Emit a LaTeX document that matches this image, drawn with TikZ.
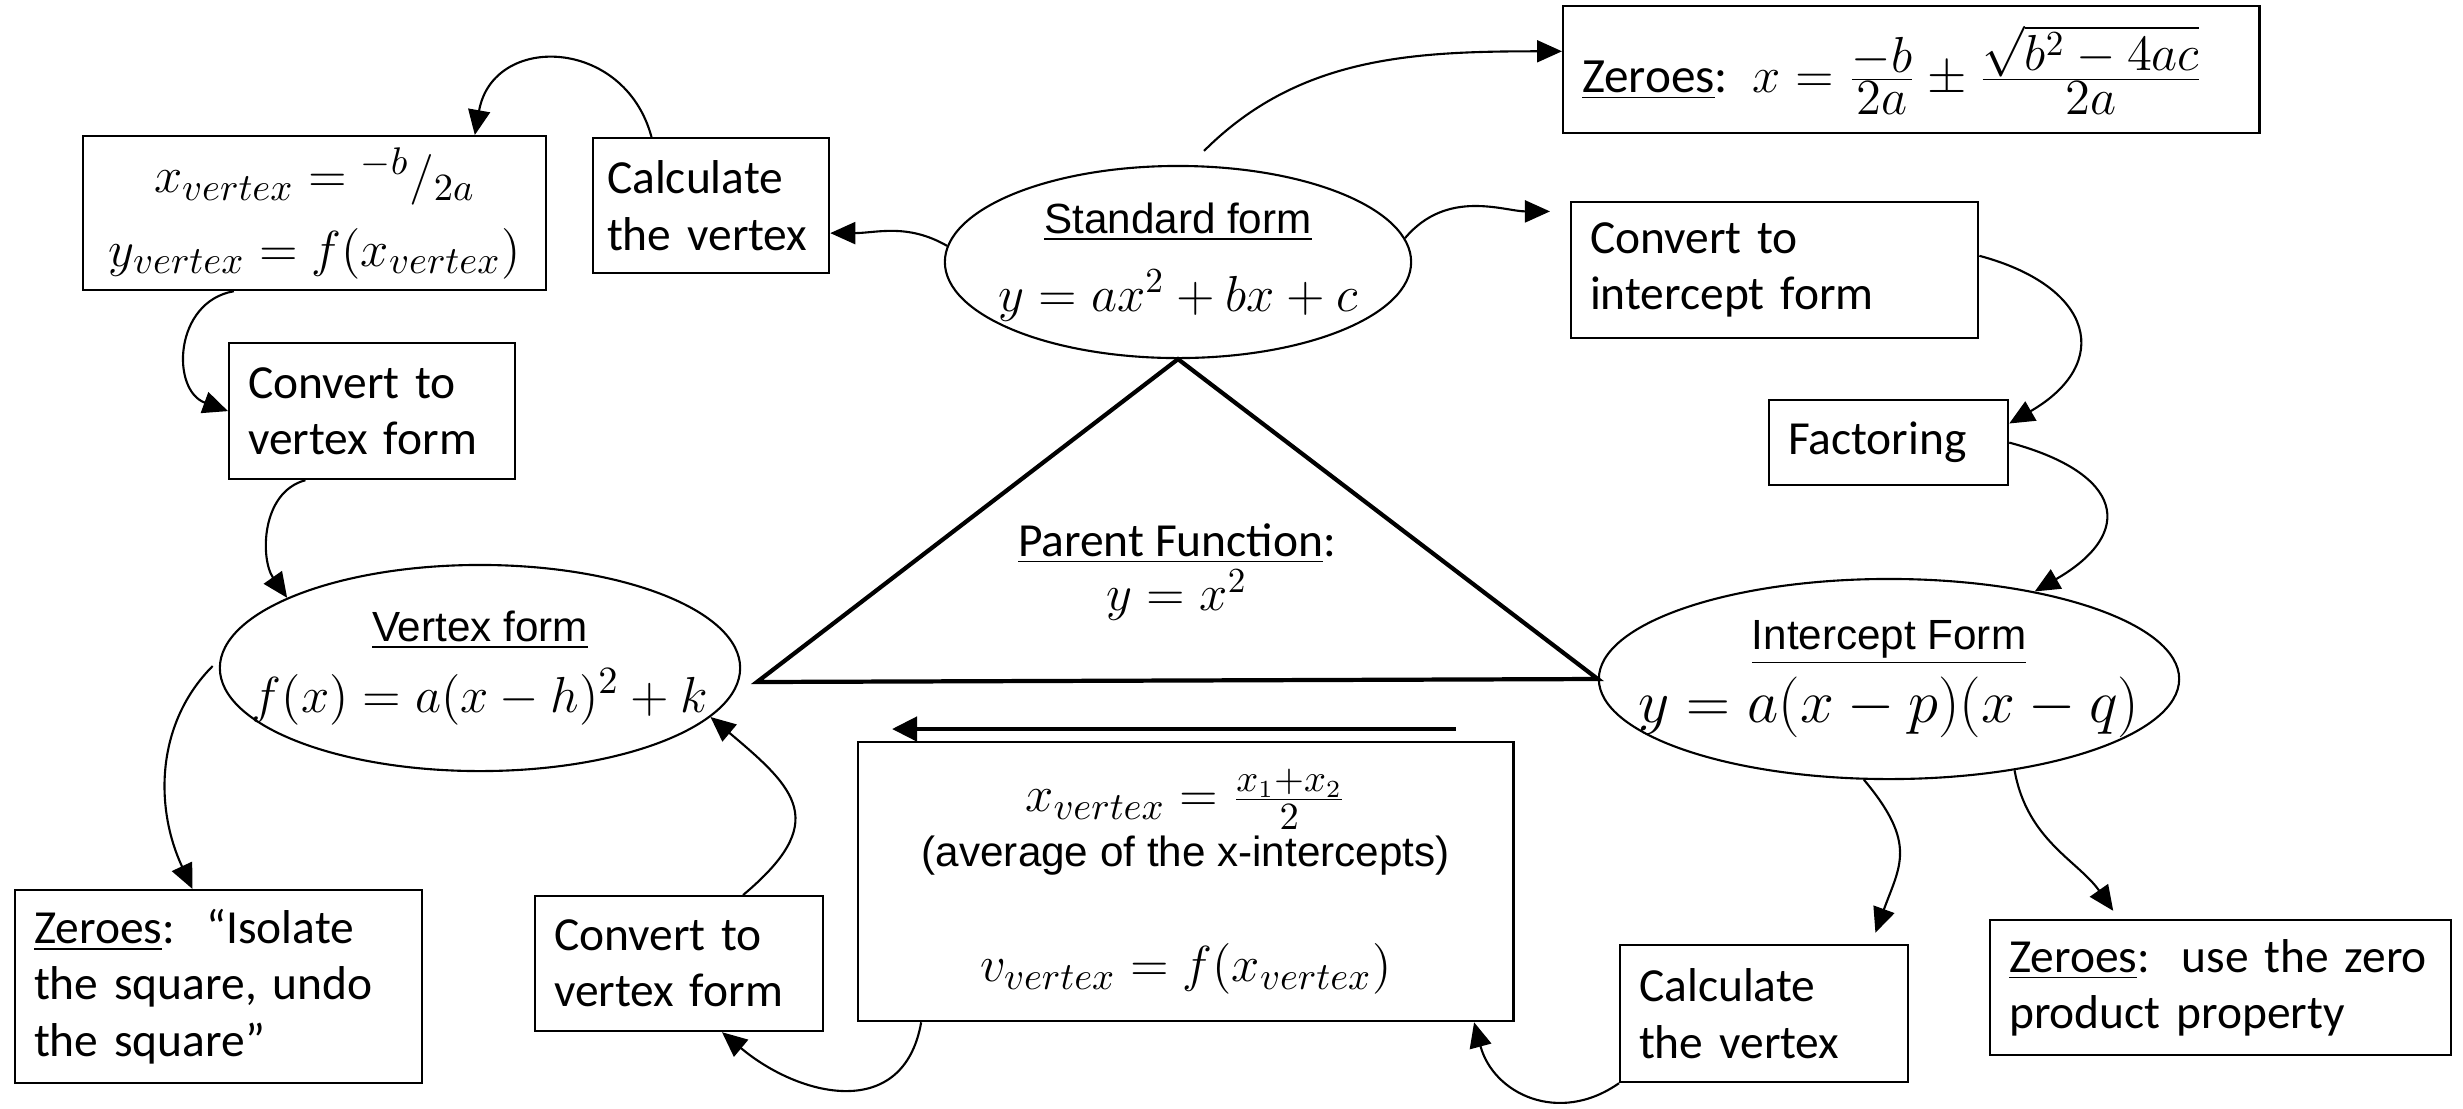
\documentclass[tikz,border=0pt]{standalone}
\usepackage[no-math]{fontspec}
\setmainfont{Carlito}
\newfontfamily\arialfont{Liberation Sans}
\usetikzlibrary{shapes.geometric,arrows.meta}

\tikzset{
  box/.style={draw, line width=0.6pt, anchor=north west, align=left, inner xsep=0.19cm, inner ysep=0pt, font=\fontsize{13.5}{16}\selectfont},
  form/.style={draw, ellipse, line width=0.6pt, inner sep=-0.5cm, align=center},
  link/.style={-{Triangle[length=0.25cm,width=0.22cm]}, line width=0.6pt},
  bigarrow/.style={-{Triangle[length=0.25cm,width=0.24cm]}, line width=1.3pt},
  tri/.style={line width=1.2pt, line join=miter},
}

\begin{document}
\begin{tikzpicture}[x=0.01cm,y=-0.01cm]
\useasboundingbox (0,0) rectangle (2463,1108);

% Forms
\node[form, minimum width=4.66cm, minimum height=1.92cm, font=\fontsize{14}{22}\selectfont] (std) at (1178,262) {{\arialfont\fontsize{12}{22}\selectfont\underline{Standard form}}\\ $y = ax^2 + bx + c$};
\node[form, minimum width=5.8cm, minimum height=2.0cm, font=\fontsize{16}{21}\selectfont] (int) at (1889,679) {{\arialfont\fontsize{12}{21}\selectfont\underline{Intercept Form}}\\ $y = a(x-p)(x-q)$};
\node[form, minimum width=5.2cm, minimum height=2.06cm, font=\fontsize{15}{20}\selectfont] (vf) at (480,668) {{\arialfont\fontsize{12}{20}\selectfont\underline{Vertex form}}\\ $f(x)=a(x-h)^2+k$};

% Parent function
\coordinate (baseL) at (757,682);
\draw[tri] (std.south) -- (int.west) -- (baseL) -- cycle;
\node[font=\fontsize{13.5}{15.6}\selectfont, align=center] (parent) at (1177,572) {\underline{Parent Function}:\\ {\fontsize{14}{15.6}\selectfont$y = x^2$}};

% Standard form side
\node[box, align=center, minimum width=4.63cm, minimum height=1.54cm, font=\fontsize{15}{21}\selectfont] (xv) at (82,135) {$x_{vertex} = {}^{-b}/_{2a}$\\ $y_{vertex} = f(x_{vertex})$};
\node[box, text width=2.08cm, inner xsep=0.14cm, minimum height=1.35cm] (calc1) at (592,137) {Calculate\\the vertex};
\node[box, text width=2.48cm, minimum height=1.36cm] (cv1) at (228,342) {Convert to\\vertex form};
\node[box, text width=6.58cm, minimum height=1.27cm, font=\fontsize{14}{16}\selectfont] (zq) at (1562,5) {\underline{Zeroes}: $x = \frac{\textstyle -b}{\textstyle 2a} \pm \frac{\textstyle\sqrt{b^2-4ac}}{\textstyle 2a}$};
\node[box, text width=3.69cm, minimum height=1.36cm] (cint) at (1570,201) {Convert to\\intercept form};
\node[box, text width=2.01cm, minimum height=0.85cm] (fact) at (1768,399) {Factoring};

% Vertex form side
\node[box, text width=3.69cm, minimum height=1.93cm] (ziso) at (14,889) {\underline{Zeroes}:\ \ “Isolate\\the square, undo\\the square”};
\node[box, text width=2.5cm, minimum height=1.35cm] (cv2) at (534,895) {Convert to\\vertex form};

% Intercept form side
\node[box, align=center, minimum width=6.55cm, minimum height=2.79cm, font=\fontsize{15}{15.6}\selectfont] (avg) at (857,741) {$x_{vertex} = \frac{x_1+x_2}{2}$\\ {\arialfont\fontsize{12}{15.6}\selectfont (average of the x-intercepts)}\\[0.6cm] $v_{vertex} = f(x_{vertex})$};
\node[box, text width=2.5cm, minimum height=1.37cm] (calc2) at (1619,944) {Calculate\\the vertex};
\node[box, text width=4.23cm, minimum height=1.35cm] (zzero) at (1989,919) {\underline{Zeroes}:\ \ use the zero\\product property};

% Arrows
\draw[link] (std.176) to[out=150,in=0] (calc1.-13);
\draw[link] (calc1.131) to[out=105,in=80,looseness=1.5] (xv.26);
\draw[link] (xv.224) to[out=190,in=160,looseness=1.3] (cv1.west);
\draw[link] (cv1.226) to[out=195,in=125] (vf.160);
\draw[link, shorten <=0.1cm] (vf.178) to[out=225,in=115] (ziso.105);
\draw[link] (cv2.47) to[out=40,in=-40,looseness=1.6] (vf.-12);
\draw[link] (avg.208) to[out=260,in=-40,looseness=1.3] (cv2.-58);
\draw[link] (calc2.south west) to[out=215,in=285,looseness=1.2] (avg.-26);
\draw[link, shorten <=0.2cm] (std.83) to[out=45,in=180] (zq.177);
\draw[link, shorten >=0.2cm] (std.6) to[out=50,in=180] (cint.164);
\draw[link] (cint.4) to[out=-15,in=30,looseness=1.8] (fact.9);
\draw[link] (fact.east) to[out=-15,in=30,looseness=2] (int.31);
\draw[link, shorten >=0.12cm] (int.-104) to[out=-50,in=70,looseness=1.3] (calc2.33);
\draw[link, shorten >=0.1cm] (int.-36) to[out=-80,in=125] (zzero.146);

% Average arrow
\coordinate (avgR) at (1456,729);
\coordinate (avgL) at (892,729);
\draw[bigarrow] (avgR) -- (avgL);
\end{tikzpicture}
\end{document}
